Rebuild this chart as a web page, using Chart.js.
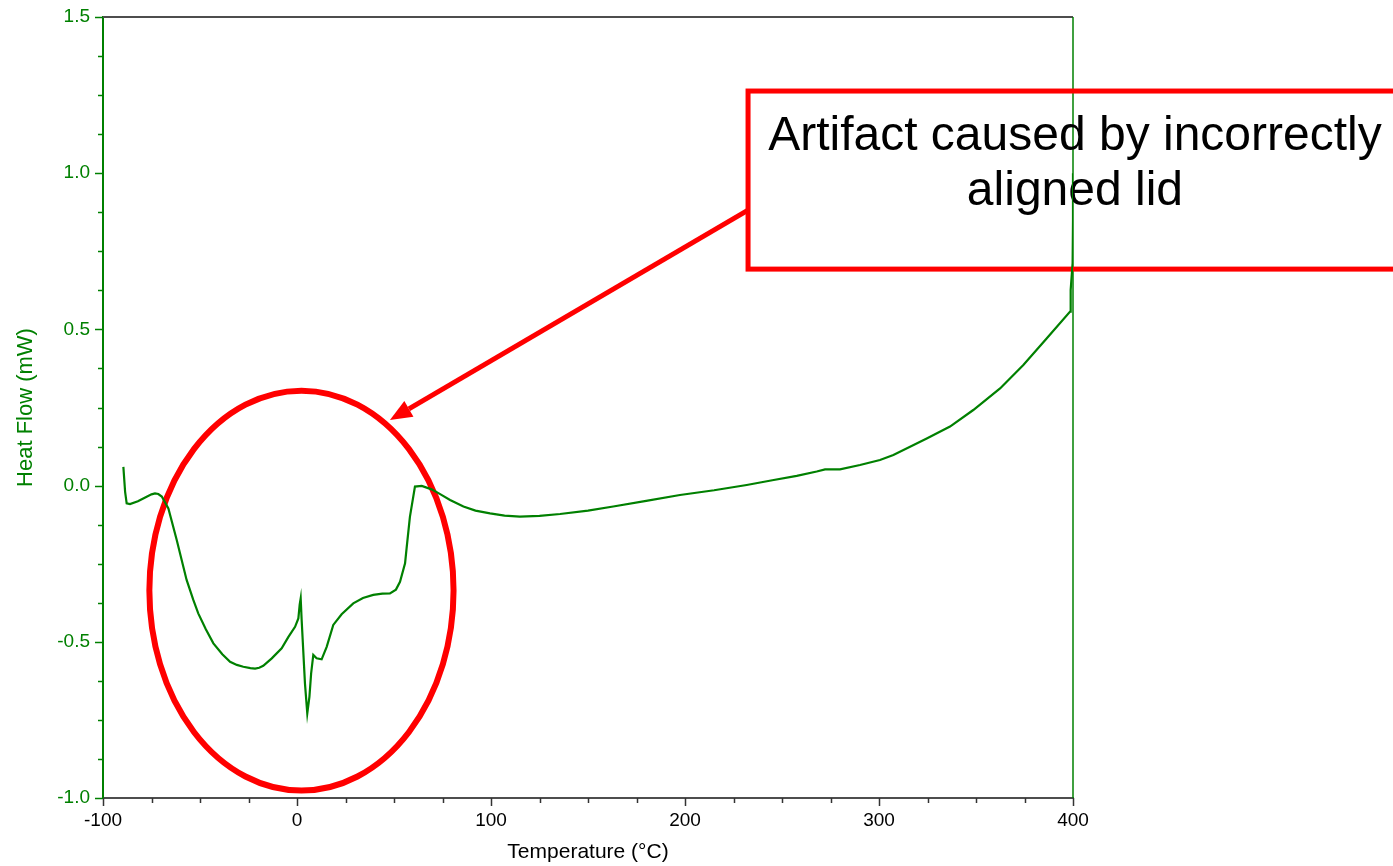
<!DOCTYPE html>
<html>
<head>
<meta charset="utf-8">
<title>Heat Flow vs Temperature</title>
<script src="https://cdn.jsdelivr.net/npm/chart.js@4.4.1/dist/chart.umd.min.js"></script>
<style>
  html, body { margin: 0; padding: 0; background: #ffffff; }
  #wrap { width: 1393px; height: 866px; position: relative; }
</style>
</head>
<body>
<div id="wrap"><canvas id="dsc" width="1393" height="866"></canvas></div>
<script>
// DSC scan: temperature (°C) and heat flow (mW)
const temperatures = [
  -89.5, -88.6, -87.8, -86.1, -82, -78, -75, -73.2, -71.5, -69.7,
  -66.3, -62.0, -56.9, -53.5, -50.9, -47, -43.1, -38.5, -34.5, -31,
  -27.7, -24, -21.6, -19.5, -17.4, -13, -7.9, -4.5, -1.0, 0.7,
  1.4, 1.9, 2.4, 4.1, 5.3, 6.4, 7.3, 8.4, 10.1, 12.7,
  15.3, 18.7, 23, 29.0, 34, 39.3, 44, 47.9, 51, 53.1,
  55.7, 56.5, 58.2, 60.8, 64.3, 69.4, 74, 78.9, 85.8, 92,
  99.5, 107, 114.9, 125, 135.6, 150, 163.0, 180, 197.4, 215,
  231.8, 245, 257.6, 267.9, 272.2, 279.9, 290.2, 300.5, 307.4, 316,
  324.6, 336.6, 348.6, 362.4, 374.4, 386.4, 398.5, 398.8, 399.8, 400,
  400
];
const heatFlow = [
  0.060, -0.020, -0.057, -0.059, -0.050, -0.037, -0.028, -0.025, -0.027, -0.035,
  -0.073, -0.174, -0.302, -0.365, -0.409, -0.460, -0.505, -0.540, -0.564, -0.574,
  -0.580, -0.584, -0.586, -0.583, -0.577, -0.553, -0.521, -0.485, -0.452, -0.425,
  -0.380, -0.361, -0.430, -0.633, -0.729, -0.676, -0.600, -0.542, -0.553, -0.556,
  -0.516, -0.446, -0.412, -0.377, -0.360, -0.350, -0.346, -0.345, -0.333, -0.308,
  -0.249, -0.200, -0.100, -0.003, -0.001, -0.012, -0.028, -0.046, -0.067, -0.080,
  -0.089, -0.096, -0.099, -0.097, -0.091, -0.080, -0.067, -0.049, -0.030, -0.015,
  0.002, 0.017, 0.031, 0.045, 0.052, 0.052, 0.066, 0.082, 0.098, 0.124,
  0.151, 0.189, 0.242, 0.311, 0.386, 0.471, 0.557, 0.626, 0.712, 0.850,
  1.000
];

// Axis ranges and labelled ticks
const xTickLabels = ['-100', '0', '100', '200', '300', '400'];
const yTickLabels = ['-1.0', '-0.5', '0.0', '0.5', '1.0', '1.5'];
const xMinorStep = 25;
const yMinorStep = 0.125;

const GREEN = '#008000';
const RED = '#ff0000';
const AXIS_GREY = '#4d4d4d';
const FONT = '"Liberation Sans", Arial, Helvetica, sans-serif';

const points = temperatures.map((t, i) => ({ x: t, y: heatFlow[i] }));

function labelFor(list, value) {
  const hit = list.find(s => Math.abs(parseFloat(s) - value) < 1e-9);
  return hit === undefined ? '' : hit;
}

// Frame, outward tick marks and the call-out (ellipse, arrow, boxed note)
const frameAndNotes = {
  id: 'frameAndNotes',
  beforeDatasetsDraw(chart) {
    const { ctx, chartArea: a, scales: { x, y } } = chart;
    ctx.save();

    // top frame line
    ctx.strokeStyle = AXIS_GREY;
    ctx.lineWidth = 2;
    ctx.beginPath();
    ctx.moveTo(a.left, a.top);
    ctx.lineTo(a.right, a.top);
    ctx.stroke();

    // right frame line
    ctx.strokeStyle = GREEN;
    ctx.lineWidth = 1.5;
    ctx.beginPath();
    ctx.moveTo(a.right, a.top);
    ctx.lineTo(a.right, a.bottom);
    ctx.stroke();

    // x ticks (down, outside)
    ctx.strokeStyle = '#333333';
    ctx.lineWidth = 1.5;
    x.ticks.forEach(t => {
      const px = Math.round(x.getPixelForValue(t.value)) + 0.5;
      const major = labelFor(xTickLabels, t.value) !== '';
      ctx.beginPath();
      ctx.moveTo(px, a.bottom);
      ctx.lineTo(px, a.bottom + (major ? 8 : 5));
      ctx.stroke();
    });

    // y ticks (left, outside)
    ctx.strokeStyle = GREEN;
    y.ticks.forEach(t => {
      const py = Math.round(y.getPixelForValue(t.value)) + 0.5;
      const major = labelFor(yTickLabels, t.value) !== '';
      ctx.beginPath();
      ctx.moveTo(a.left, py);
      ctx.lineTo(a.left - (major ? 8 : 5), py);
      ctx.stroke();
    });

    // ellipse around the low-temperature region
    const cx = x.getPixelForValue(2.3);
    const cy = y.getPixelForValue(-0.336);
    const rx = x.getPixelForValue(2.3 + 78.4) - cx;
    const ry = cy - y.getPixelForValue(-0.336 + 0.64);
    ctx.strokeStyle = RED;
    ctx.lineWidth = 6;
    ctx.beginPath();
    ctx.ellipse(cx, cy, rx, ry, 0, 0, Math.PI * 2);
    ctx.stroke();

    // arrow from the note box to the ellipse
    const sx = x.getPixelForValue(232.5), sy = y.getPixelForValue(0.882);
    const ex = x.getPixelForValue(47.9), ey = y.getPixelForValue(0.21);
    const ang = Math.atan2(ey - sy, ex - sx);
    const headLen = 22, headHalf = 9;
    const bx = ex - headLen * Math.cos(ang), by = ey - headLen * Math.sin(ang);
    ctx.lineWidth = 5;
    ctx.beginPath();
    ctx.moveTo(sx, sy);
    ctx.lineTo(bx, by);
    ctx.stroke();
    ctx.fillStyle = RED;
    ctx.beginPath();
    ctx.moveTo(ex, ey);
    ctx.lineTo(bx + headHalf * Math.sin(ang), by - headHalf * Math.cos(ang));
    ctx.lineTo(bx - headHalf * Math.sin(ang), by + headHalf * Math.cos(ang));
    ctx.closePath();
    ctx.fill();

    // note box
    const left = x.getPixelForValue(232.5);
    const right = x.getPixelForValue(570);
    const top = y.getPixelForValue(1.263);
    const bottom = y.getPixelForValue(0.693);
    ctx.lineWidth = 5;
    ctx.strokeRect(left, top, right - left, bottom - top);

    // note text
    ctx.fillStyle = '#000000';
    ctx.font = '48px ' + FONT;
    ctx.textAlign = 'center';
    ctx.textBaseline = 'middle';
    const tx = x.getPixelForValue(401);
    ctx.fillText('Artifact caused by incorrectly', tx, y.getPixelForValue(1.116));
    ctx.fillText('aligned lid', tx, y.getPixelForValue(0.940));

    ctx.restore();
  }
};

new Chart(document.getElementById('dsc'), {
  type: 'line',
  data: {
    datasets: [{
      label: 'Heat Flow',
      data: points,
      borderColor: GREEN,
      borderWidth: 2.2,
      pointRadius: 0,
      tension: 0,
      fill: false
    }]
  },
  options: {
    responsive: false,
    animation: false,
    devicePixelRatio: 1,
    layout: { padding: { top: 17, right: 320, left: 0, bottom: 0 } },
    plugins: {
      legend: { display: false },
      tooltip: { enabled: false }
    },
    scales: {
      x: {
        type: 'linear',
        min: -100,
        max: 400,
        afterFit: s => { s.height = 68; },
        border: { display: true, color: AXIS_GREY, width: 2 },
        grid: { drawOnChartArea: false, drawTicks: false },
        ticks: {
          stepSize: xMinorStep,
          autoSkip: false,
          maxRotation: 0,
          padding: 11,
          color: '#000000',
          font: { family: FONT, size: 19 },
          callback: v => labelFor(xTickLabels, v)
        },
        title: {
          display: true,
          text: 'Temperature (°C)',
          color: '#000000',
          font: { family: FONT, size: 21 },
          padding: { top: 0, bottom: 1 }
        }
      },
      y: {
        type: 'linear',
        min: -1.0,
        max: 1.5,
        afterFit: s => { s.width = 103; s.paddingTop = 0; s.paddingBottom = 0; },
        border: { display: true, color: GREEN, width: 2 },
        grid: { drawOnChartArea: false, drawTicks: false },
        ticks: {
          stepSize: yMinorStep,
          autoSkip: false,
          padding: 13,
          color: GREEN,
          font: { family: FONT, size: 19 },
          callback: v => labelFor(yTickLabels, v)
        },
        title: {
          display: true,
          text: 'Heat Flow (mW)',
          color: GREEN,
          font: { family: FONT, size: 22 },
          padding: { top: 13, bottom: 0 }
        }
      }
    }
  },
  plugins: [frameAndNotes]
});
</script>
</body>
</html>
